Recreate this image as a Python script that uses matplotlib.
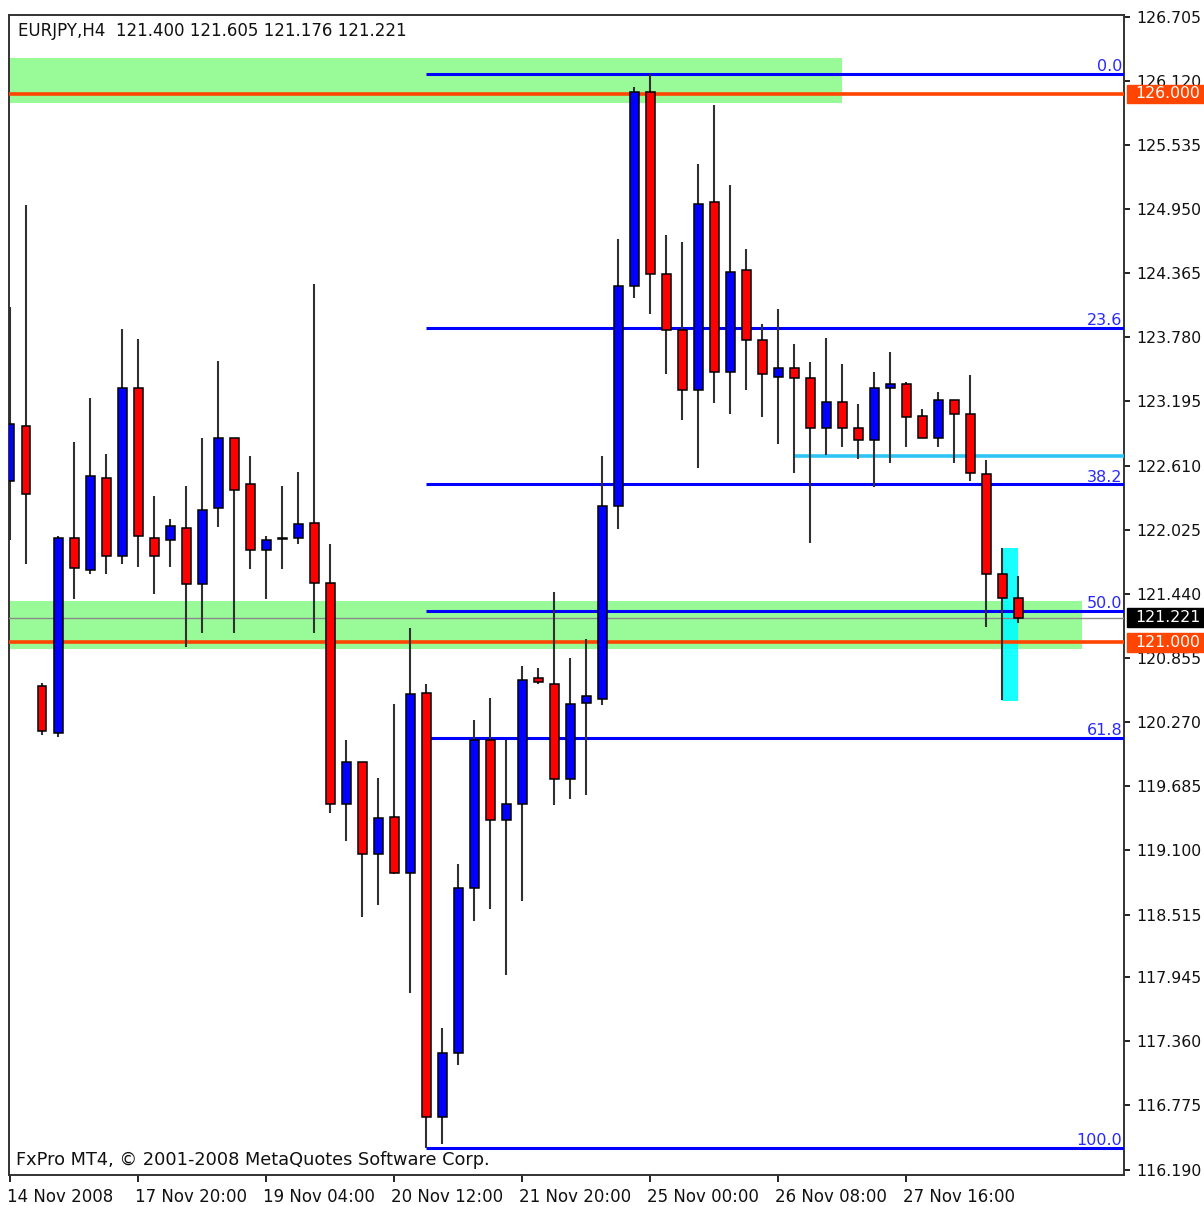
import matplotlib.pyplot as plt
import matplotlib.transforms as mtransforms
from matplotlib.patches import Rectangle

# EURJPY H4 bars (open, high, low, close)
opens = [122.468, 122.970, 120.599, 120.170, 121.948, 121.657, 122.496, 121.784,
         123.317, 121.948, 121.930, 122.040, 121.529, 122.222, 122.860, 122.441,
         121.839, 121.939, 121.948, 122.085, 121.538, 119.523, 119.906, 119.067,
         119.404, 118.893, 120.535, 116.668, 117.252, 118.756, 120.106, 119.377,
         119.523, 120.672, 120.617, 119.751, 120.444, 120.480, 122.240, 124.247,
         126.016, 124.356, 123.845, 123.298, 125.013, 123.462, 124.392, 123.754,
         123.417, 123.499, 123.408, 122.952, 123.189, 122.952, 122.842, 123.317,
         123.353, 123.061, 122.860, 123.207, 123.079, 122.532, 121.620, 121.400]
highs = [124.055, 124.985, 120.626, 121.967, 122.824, 123.225, 122.715, 123.855,
         123.764, 122.332, 122.122, 122.423, 122.860, 123.563, 122.860, 122.697,
         121.967, 122.423, 122.551, 124.265, 121.894, 120.106, 119.906, 119.760,
         120.435, 121.128, 120.617, 117.480, 118.975, 120.289, 120.489, 120.106,
         120.781, 120.763, 121.456, 120.854, 121.027, 122.697, 124.675, 126.062,
         126.180, 124.712, 124.648, 125.359, 125.897, 125.168, 124.584, 123.900,
         124.037, 123.718, 123.554, 123.772, 123.535, 123.171, 123.462, 123.645,
         123.371, 123.125, 123.280, 123.207, 123.435, 122.660, 121.857, 121.605]
lows = [121.930, 121.711, 120.152, 120.134, 121.392, 121.620, 121.620, 121.711,
        121.684, 121.438, 121.684, 120.954, 121.082, 122.049, 121.082, 121.666,
        121.392, 121.666, 121.894, 121.082, 119.440, 119.185, 118.492, 118.601,
        118.884, 117.799, 116.385, 116.422, 117.142, 118.455, 118.565, 117.963,
        118.638, 120.617, 119.513, 119.568, 119.605, 120.425, 122.031, 124.137,
        123.991, 123.444, 123.025, 122.587, 123.180, 123.079, 123.298, 123.052,
        122.806, 122.541, 121.903, 122.705, 122.778, 122.669, 122.414, 122.633,
        122.778, 122.860, 122.778, 122.633, 122.468, 121.137, 120.471, 121.176]
closes = [122.988, 122.350, 120.188, 121.948, 121.675, 122.514, 121.784, 123.317,
          121.967, 121.784, 122.058, 121.529, 122.204, 122.860, 122.386, 121.839,
          121.930, 121.945, 122.076, 121.538, 119.523, 119.906, 119.067, 119.395,
          118.893, 120.526, 116.668, 117.252, 118.756, 120.106, 119.377, 119.523,
          120.653, 120.635, 119.751, 120.435, 120.508, 122.240, 124.247, 126.016,
          124.356, 123.845, 123.298, 124.995, 123.462, 124.374, 123.754, 123.444,
          123.499, 123.408, 122.952, 123.189, 122.952, 122.842, 123.317, 123.353,
          123.052, 122.860, 123.207, 123.079, 122.541, 121.620, 121.400, 121.221]

time_ticks = [0, 8, 16, 24, 32, 40, 48, 56]
time_labels = ["14 Nov 2008", "17 Nov 20:00", "19 Nov 04:00", "20 Nov 12:00",
               "21 Nov 20:00", "25 Nov 00:00", "26 Nov 08:00", "27 Nov 16:00"]
price_ticks = [126.705, 126.120, 125.535, 124.950, 124.365, 123.780, 123.195,
               122.610, 122.025, 121.440, 120.855, 120.270, 119.685, 119.100,
               118.515, 117.945, 117.360, 116.775, 116.190]

# fibonacci retracement from bar 26 low to bar 40 high
fib_high = 126.180
fib_low = 116.385
fib_ratios = [0.0, 23.6, 38.2, 50.0, 61.8, 100.0]
fib_start = 26

# green zones: top, bottom, last bar
zone_tops = [126.33, 121.374]
zone_bottoms = [125.92, 120.936]
zone_ends = [52, 67]

levels = [126.000, 121.000]
bid = 121.221
cyan_level = 122.696
cyan_start = 49
cyan_box_bars = [62, 63]
cyan_box_prices = [120.462, 121.857]

title = "EURJPY,H4  121.400 121.605 121.176 121.221"
footer = "FxPro MT4, \u00a9 2001-2008 MetaQuotes Software Corp."

plt.rcParams['font.family'] = ['DejaVu Sans']
fig = plt.figure(figsize=(12.04, 12.05), dpi=100)
ax = fig.add_axes([8.5 / 1204, 30 / 1205, 1115.5 / 1204, 1160 / 1205])
ax.set_xlim(-0.094, 69.6)
ax.set_ylim(116.14, 126.72)

# zones and boxes (background)
for top, bot, end in zip(zone_tops, zone_bottoms, zone_ends):
    ax.add_patch(Rectangle((-10, bot), end + 10, top - bot, color='#98FB98',
                           lw=0, zorder=1))
ax.add_patch(Rectangle((cyan_box_bars[0], cyan_box_prices[0]),
                       cyan_box_bars[1] - cyan_box_bars[0],
                       cyan_box_prices[1] - cyan_box_prices[0],
                       color='#00FFFF', lw=0, zorder=2, alpha=0.9))

# horizontal lines
for lv in levels:
    ax.axhline(lv, color='#FF4500', lw=2.6, zorder=4)
ax.axhline(bid, color='#8A8A8A', lw=1.0, zorder=4)
ax.hlines(cyan_level, cyan_start, 100, color='#2EC4F5', lw=2.6, zorder=4)

# fibo levels
for r in fib_ratios:
    lv = fib_high - (fib_high - fib_low) * r / 100
    ax.hlines(lv, fib_start, 100, color='#0000FF', lw=2.2, zorder=4)
    ax.text(0.9985, lv + 0.025, "%.1f" % r, color='#2828FF', fontsize=11.5,
            ha='right', va='baseline', transform=ax.get_yaxis_transform(),
            zorder=8)

# candles
x = list(range(len(opens)))
ax.vlines(x, lows, highs, color='#303030', lw=1.5, zorder=5)
for i in x:
    o, c = opens[i], closes[i]
    col = '#0000FF' if c >= o else '#FF0000'
    h = max(abs(c - o), 0.008)
    ax.bar(i, h, bottom=min(o, c), width=0.56, color=col, edgecolor='black',
           linewidth=1.1, zorder=6)

# texts inside plot
ax.text(0.0085, 0.9862, title, transform=ax.transAxes, fontsize=12,
        ha='left', va='center', color='#111111', zorder=9)
ax.text(0.0067, 0.0129, footer, transform=ax.transAxes, fontsize=12.8,
        ha='left', va='center', color='#111111', zorder=9)

# axes style
for sp in ax.spines.values():
    sp.set_color('#333333')
    sp.set_linewidth(1.4)
ax.yaxis.tick_right()
ax.set_yticks(price_ticks)
ax.set_yticklabels(["%.3f" % p for p in price_ticks])
ax.tick_params(axis='y', direction='out', length=4, width=1.3, pad=5,
               labelsize=11.3, colors='#111111')
ax.set_xticks(time_ticks)
ax.set_xticklabels(time_labels, ha='left')
ax.tick_params(axis='x', direction='out', length=5, width=1.3, pad=4,
               labelsize=12, colors='#111111')
offs = mtransforms.ScaledTranslation(-3 / 100, 0, fig.dpi_scale_trans)
for lab in ax.get_xticklabels():
    lab.set_transform(lab.get_transform() + offs)

# price boxes on the right axis
trans = ax.get_yaxis_transform()
boxes = [(126.000, '#FF4500'), (121.000, '#FF4500'), (bid, '#000000')]
for price, col in boxes:
    ax.add_patch(Rectangle((1.0027, price - 0.086), 0.069, 0.172, color=col,
                           transform=trans, clip_on=False, zorder=10))
    ax.text(1.0099, price, "%.3f" % price, color='white', fontsize=11.3,
            ha='left', va='center', transform=trans, clip_on=False, zorder=11)

fig.savefig("out.png", dpi=100)
